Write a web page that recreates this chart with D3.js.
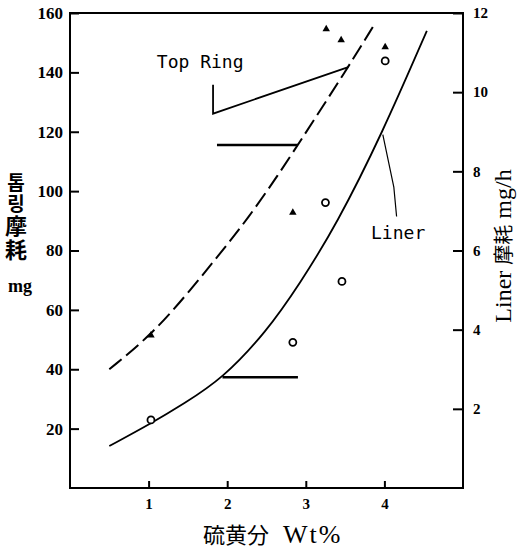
<!DOCTYPE html>
<html>
<head>
<meta charset="utf-8">
<script src="https://cdn.jsdelivr.net/npm/d3@7"></script>
<style>
  body { margin: 0; background: #fff; }
  svg { display: block; }
</style>
</head>
<body>
<script>
// axis ticks
const xTicks = [1, 2, 3, 4];
const leftTicks = [20, 40, 60, 80, 100, 120, 140, 160];
const rightTicks = [2, 4, 6, 8, 10, 12];

// top ring wear curve (left axis, mg)
const ringCurveX = [0.5, 1.03, 1.53, 2.0, 2.25, 2.61, 2.9, 3.54, 3.86];
const ringCurveY = [40, 51.4, 66.5, 82, 90.4, 103.9, 115.6, 141.8, 155.6];
// liner wear curve (right axis, mg/h)
const linerCurveX = [0.5, 1.04, 1.44, 1.94, 2.5, 2.92, 3.39, 3.97, 4.54];
const linerCurveY = [1.06, 1.64, 2.12, 2.76, 3.95, 5.15, 6.65, 8.95, 11.55];

// measured points
const ringX = [1.03, 2.835, 3.26, 3.45, 4.01];
const ringY = [51.4, 92.8, 154.6, 150.9, 148.5];
const linerX = [1.03, 2.835, 3.25, 3.46, 4.01];
const linerY = [1.72, 3.68, 7.21, 5.22, 10.79];

// callout / pointer lines
const ringCalloutX = [1.82, 1.82, 3.54];
const ringCalloutY = [135.8, 126.1, 141.8];
const ringPointerX = [1.87, 2.9];
const ringPointerY = [115.5, 115.5];
const linerPointerX = [1.94, 2.9];
const linerPointerY = [2.8, 2.8];
const linerCalloutX = [3.98, 4.12, 4.155];
const linerCalloutY = [8.93, 7.6, 6.86];

const w = 517, h = 549;
const padL = 70, padR = 463, padT = 13, padB = 488;

const x = d3.scaleLinear().domain([0, 5]).range([padL, padR]);
const yL = d3.scaleLinear().domain([0, 160]).range([padB, padT]);
const yR = d3.scaleLinear().domain([0, 12]).range([padB, padT]);

const svg = d3.select('body').append('svg')
    .attr('width', w)
    .attr('height', h);

// frame
svg.append('rect')
    .attr('x', x(0))
    .attr('y', yL(160))
    .attr('width', x(5) - x(0))
    .attr('height', yL(0) - yL(160))
    .attr('fill', 'none')
    .attr('stroke', '#000')
    .attr('stroke-width', 2);

const tickFont = (g, size) => {
    g.select('.domain').remove();
    g.selectAll('line').attr('stroke', '#000').attr('stroke-width', 2);
    g.selectAll('text')
        .attr('fill', '#000')
        .style('font-family', '"Liberation Serif", serif')
        .style('font-weight', 'bold')
        .style('font-size', size + 'px');
};

svg.append('g')
    .attr('transform', `translate(${padL},0)`)
    .call(d3.axisLeft(yL).tickValues(leftTicks).tickFormat(d3.format('d'))
        .tickSizeInner(-9).tickSizeOuter(0).tickPadding(7))
    .call(g => tickFont(g, 17));

svg.append('g')
    .attr('transform', `translate(0,${padB})`)
    .call(d3.axisBottom(x).tickValues(xTicks).tickFormat(d3.format('d'))
        .tickSizeInner(-7).tickSizeOuter(0).tickPadding(10))
    .call(g => tickFont(g, 15));

svg.append('g')
    .attr('transform', `translate(${padR},0)`)
    .call(d3.axisRight(yR).tickValues(rightTicks).tickFormat(d3.format('d'))
        .tickSizeInner(-10).tickSizeOuter(0).tickPadding(10))
    .call(g => tickFont(g, 15));

// curves
const lineL = d3.line().x(d => x(d[0])).y(d => yL(d[1])).curve(d3.curveBasis);
const lineR = d3.line().x(d => x(d[0])).y(d => yR(d[1])).curve(d3.curveBasis);
const straightL = d3.line().x(d => x(d[0])).y(d => yL(d[1]));
const straightR = d3.line().x(d => x(d[0])).y(d => yR(d[1]));

svg.append('path')
    .attr('d', lineL(d3.zip(ringCurveX, ringCurveY)))
    .attr('fill', 'none')
    .attr('stroke', '#000')
    .attr('stroke-width', 2)
    .attr('stroke-dasharray', '16,6');

svg.append('path')
    .attr('d', lineR(d3.zip(linerCurveX, linerCurveY)))
    .attr('fill', 'none')
    .attr('stroke', '#000')
    .attr('stroke-width', 1.8);

// annotations
svg.append('path')
    .attr('d', straightL(d3.zip(ringCalloutX, ringCalloutY)))
    .attr('fill', 'none').attr('stroke', '#000').attr('stroke-width', 1.8);
svg.append('path')
    .attr('d', straightL(d3.zip(ringPointerX, ringPointerY)))
    .attr('fill', 'none').attr('stroke', '#000').attr('stroke-width', 2.5);
svg.append('path')
    .attr('d', straightR(d3.zip(linerPointerX, linerPointerY)))
    .attr('fill', 'none').attr('stroke', '#000').attr('stroke-width', 2.5);
svg.append('path')
    .attr('d', straightR(d3.zip(linerCalloutX, linerCalloutY)))
    .attr('fill', 'none').attr('stroke', '#000').attr('stroke-width', 1.2);

// points
svg.selectAll('.tri')
    .data(d3.zip(ringX, ringY))
    .enter().append('path')
    .attr('class', 'tri')
    .attr('d', d3.symbol(d3.symbolTriangle, 24))
    .attr('transform', d => `translate(${x(d[0])},${yL(d[1])})`)
    .attr('fill', '#000');

svg.selectAll('.circ')
    .data(d3.zip(linerX, linerY))
    .enter().append('circle')
    .attr('class', 'circ')
    .attr('cx', d => x(d[0]))
    .attr('cy', d => yR(d[1]))
    .attr('r', 3.5)
    .attr('fill', '#fff')
    .attr('stroke', '#000')
    .attr('stroke-width', 1.8);

// labels
const mono = '"DejaVu Sans Mono", monospace';
svg.append('text')
    .attr('x', x(1.105)).attr('y', yL(141.6))
    .style('font-family', mono).style('font-size', '18px')
    .text('Top Ring');
svg.append('text')
    .attr('x', x(3.83)).attr('y', yR(6.3))
    .style('font-family', mono).style('font-size', '18px')
    .text('Liner');

// left axis title, stacked vertically
const lt = svg.append('text')
    .attr('x', 16).attr('y', 173)
    .attr('writing-mode', 'vertical-rl')
    .style('font-family', '"Noto Sans CJK KR", "Noto Sans CJK JP", sans-serif')
    .style('font-weight', 'bold')
    .style('letter-spacing', '2px');
lt.append('tspan').style('font-size', '19px').text('톱링');
lt.append('tspan').style('font-size', '22px').text('摩耗');
svg.append('text')
    .attr('x', 20).attr('y', 292)
    .attr('text-anchor', 'middle')
    .style('font-family', '"Liberation Serif", serif')
    .style('font-weight', 'bold')
    .style('font-size', '18px')
    .text('mg');

// right axis title (rotated)
const rt = svg.append('text')
    .attr('transform', 'translate(511,246) rotate(-90)')
    .attr('text-anchor', 'middle')
    .style('font-family', '"Liberation Serif", serif')
    .style('font-size', '24px');
rt.append('tspan').text('Liner ');
rt.append('tspan').style('font-family', '"Noto Sans CJK JP", sans-serif').style('font-size', '20px').text('摩耗');
rt.append('tspan').text(' mg/h');

// bottom title
const bt = svg.append('text')
    .attr('x', 203).attr('y', 543);
bt.append('tspan')
    .style('font-family', '"Noto Sans CJK JP", sans-serif')
    .style('font-size', '22px')
    .text('硫黄分');
bt.append('tspan')
    .attr('dx', 14)
    .style('font-family', '"Liberation Serif", serif')
    .style('font-size', '26px')
    .style('letter-spacing', '2px')
    .text('Wt%');
</script>
</body>
</html>
